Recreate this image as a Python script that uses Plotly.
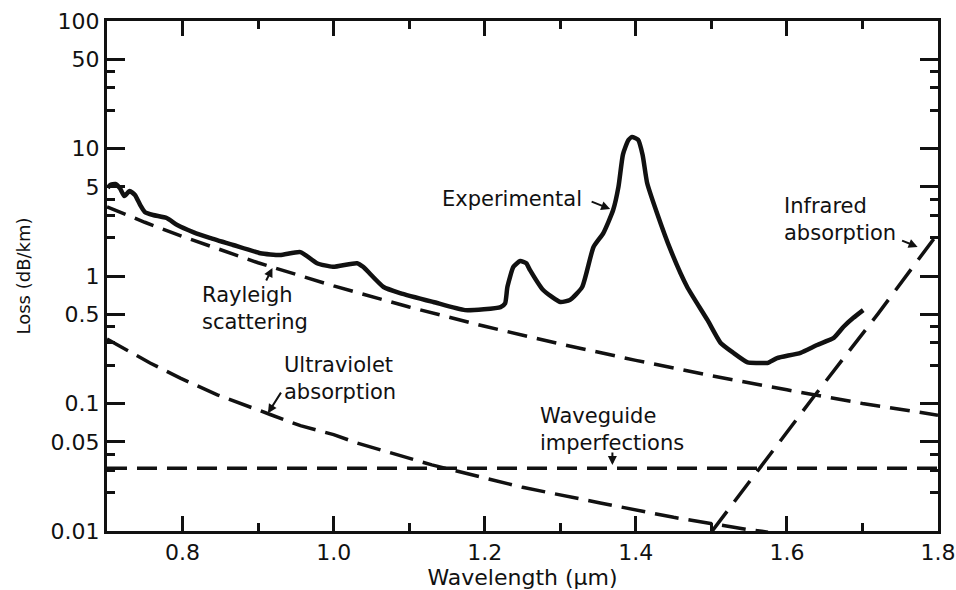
import math
import plotly.graph_objects as go

# ---- data ----
exp_wl = [0.701, 0.704, 0.711, 0.717, 0.723, 0.730, 0.737, 0.744, 0.750, 0.761, 0.779, 0.793,
          0.814, 0.836, 0.867, 0.903, 0.929, 0.956, 0.978, 0.999, 1.031, 1.039, 1.066, 1.088,
          1.132, 1.174, 1.221, 1.227, 1.230, 1.238, 1.247, 1.255, 1.260, 1.277, 1.300, 1.313,
          1.329, 1.344, 1.357, 1.370, 1.377, 1.383, 1.390, 1.395, 1.403, 1.409, 1.415, 1.428,
          1.446, 1.468, 1.495, 1.512, 1.529, 1.548, 1.561, 1.574, 1.587, 1.618, 1.640, 1.662,
          1.675, 1.688, 1.701]
exp_loss = [4.9, 5.17, 5.27, 4.9, 4.24, 4.64, 4.32, 3.6, 3.18, 3.01, 2.85, 2.51,
            2.21, 1.99, 1.75, 1.51, 1.46, 1.54, 1.26, 1.18, 1.26, 1.18, 0.82, 0.735,
            0.625, 0.54, 0.57, 0.61, 0.82, 1.18, 1.31, 1.26, 1.11, 0.78, 0.625, 0.65,
            0.82, 1.69, 2.17, 3.29, 5.0, 9.0, 11.6, 12.3, 11.7, 8.9, 5.36, 3.12,
            1.6, 0.82, 0.45, 0.30, 0.25, 0.21, 0.208, 0.208, 0.227, 0.25, 0.288, 0.327,
            0.40, 0.47, 0.54]

ray_wl = [0.70, 0.75, 0.80, 0.85, 0.90, 1.00, 1.10, 1.20, 1.30, 1.40, 1.50, 1.60, 1.70, 1.80]
ray_loss = [3.48, 2.64, 2.04, 1.60, 1.27, 0.836, 0.571, 0.403, 0.293, 0.218, 0.165, 0.128, 0.100, 0.081]

uv_wl = [0.70, 0.757, 0.797, 0.846, 0.916, 0.956, 1.00, 1.031, 1.13, 1.25, 1.353, 1.45, 1.551, 1.575]
uv_loss = [0.32, 0.208, 0.158, 0.117, 0.082, 0.067, 0.057, 0.049, 0.033, 0.022, 0.0166, 0.0128, 0.0102, 0.0098]

wg_wl = [0.70, 1.80]
wg_loss = [0.031, 0.031]

ir_wl = [1.50, 1.562, 1.635, 1.72, 1.797]
ir_loss = [0.0098, 0.03, 0.112, 0.50, 2.05]

y_ticks = [0.01, 0.05, 0.1, 0.5, 1, 5, 10, 50, 100]
y_ticktext = ["0.01", "0.05", "0.1", "0.5", "1", "5", "10", "50", "100"]
y_minor = [0.02, 0.03, 0.04, 0.2, 0.3, 0.4, 2, 3, 4, 20, 30, 40]
x_ticks = [0.8, 1.0, 1.2, 1.4, 1.6, 1.8]
x_ticktext = ["0.8", "1.0", "1.2", "1.4", "1.6", "1.8"]
x_minor = [0.9, 1.1, 1.3, 1.5, 1.7]

INK = "#111111"
FONT = "DejaVu Sans"

fig = go.Figure()
fig.add_trace(go.Scatter(x=ray_wl, y=ray_loss, mode="lines", name="Rayleigh scattering",
                         line=dict(color=INK, width=3.5, dash="20px,10px")))
fig.add_trace(go.Scatter(x=uv_wl, y=uv_loss, mode="lines", name="Ultraviolet absorption",
                         line=dict(color=INK, width=3.5, dash="24px,10px")))
fig.add_trace(go.Scatter(x=wg_wl, y=wg_loss, mode="lines", name="Waveguide imperfections",
                         line=dict(color=INK, width=3.5, dash="20px,10px")))
fig.add_trace(go.Scatter(x=ir_wl, y=ir_loss, mode="lines", name="Infrared absorption",
                         line=dict(color=INK, width=3.5, dash="26px,12px")))
fig.add_trace(go.Scatter(x=exp_wl, y=exp_loss, mode="lines", name="Experimental",
                         line=dict(color=INK, width=4.5, shape="spline", smoothing=0.5)))

texts = [
    ("Experimental", 1.141, 4.02),
    ("Rayleigh<br>scattering", 0.823, 0.56),
    ("Ultraviolet<br>absorption", 0.931, 0.158),
    ("Waveguide<br>imperfections", 1.27, 0.063),
    ("Infrared<br>absorption", 1.594, 2.75),
]
for t, x, y in texts:
    fig.add_annotation(x=x, y=math.log10(y), text=t, showarrow=False, xanchor="left",
                       yanchor="middle", align="left",
                       font=dict(family=FONT, size=21, color=INK))

arrows = [
    (1.366, 3.35, -20, -8),
    (0.919, 1.155, -7, 14),
    (0.913, 0.084, 14, -22),
    (1.369, 0.033, 0, -14),
    (1.773, 1.69, -17, -7),
]
for x, y, ax, ay in arrows:
    fig.add_annotation(x=x, y=math.log10(y), text="", showarrow=True, ax=ax, ay=ay,
                       arrowhead=2, arrowsize=0.9, arrowwidth=2, arrowcolor=INK)

fig.update_layout(
    width=956, height=590,
    margin=dict(l=107, r=18, t=21, b=59),
    paper_bgcolor="white", plot_bgcolor="white",
    showlegend=False,
    font=dict(family=FONT, color=INK),
)
fig.update_xaxes(
    range=[0.7, 1.8], tickvals=x_ticks, ticktext=x_ticktext, automargin=False,
    ticks="inside", ticklen=15, tickwidth=3, tickcolor=INK,
    minor=dict(tickvals=x_minor, ticks="inside", ticklen=8, tickwidth=3, tickcolor=INK),
    showline=True, linewidth=3, linecolor=INK, mirror="ticks",
    showgrid=False, zeroline=False,
    tickfont=dict(family=FONT, size=22, color=INK),
    title=dict(text="Wavelength (μm)", font=dict(family=FONT, size=22, color=INK), standoff=4),
)
fig.update_yaxes(
    type="log", range=[-2, 2], tickvals=y_ticks, ticktext=y_ticktext, automargin=False,
    ticks="inside", ticklen=18, tickwidth=3, tickcolor=INK,
    minor=dict(tickvals=y_minor, ticks="inside", ticklen=8, tickwidth=3, tickcolor=INK),
    showline=True, linewidth=3, linecolor=INK, mirror="ticks",
    showgrid=False, zeroline=False,
    tickfont=dict(family=FONT, size=22, color=INK),
    title=dict(text="Loss (dB/km)", font=dict(family=FONT, size=18, color=INK), standoff=16),
)

fig.write_html("out.html")
